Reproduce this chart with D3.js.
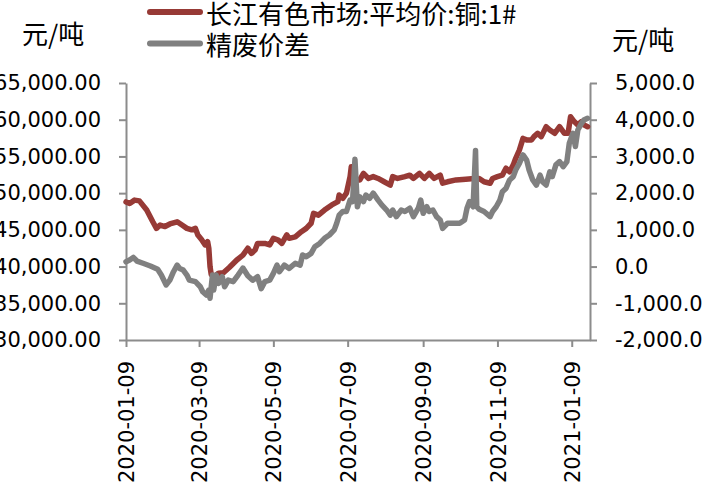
<!DOCTYPE html>
<html><head><meta charset="utf-8">
<script src="https://cdn.jsdelivr.net/npm/d3@7"></script>
<style>
html,body{margin:0;padding:0;background:#fff;overflow:hidden;}
svg{display:block;}
.num{font-family:"DejaVu Sans",sans-serif;font-size:21px;fill:#000;}
.cjk{font-family:"Noto Sans CJK SC",sans-serif;font-size:26px;fill:#000;}
</style></head>
<body>
<svg id="chart" width="719" height="483"></svg>
<script>
// ---- data ----
const seriesNames = ["长江有色市场:平均价:铜:1#", "精废价差"];
const unitLabel = "元/吨";
const xTickLabels = ["2020-01-09","2020-03-09","2020-05-09","2020-07-09","2020-09-09","2020-11-09","2021-01-09"];
const leftTicks = [30000,35000,40000,45000,50000,55000,60000,65000];
const rightTicks = [-2000,-1000,0,1000,2000,3000,4000,5000];

const copperDates = [
 "2020-01-09","2020-01-12","2020-01-16","2020-01-20","2020-01-26","2020-01-31",
 "2020-02-03","2020-02-06","2020-02-10","2020-02-14","2020-02-20","2020-02-24","2020-02-28",
 "2020-03-03","2020-03-06","2020-03-08","2020-03-11","2020-03-14","2020-03-16","2020-03-17","2020-03-18","2020-03-19","2020-03-22","2020-03-25","2020-03-29",
 "2020-04-03","2020-04-09","2020-04-14","2020-04-18","2020-04-21","2020-04-24","2020-04-26",
 "2020-05-02","2020-05-06","2020-05-09","2020-05-13","2020-05-16","2020-05-20","2020-05-22","2020-05-27",
 "2020-06-01","2020-06-05","2020-06-09","2020-06-11","2020-06-15","2020-06-20","2020-06-26",
 "2020-07-01","2020-07-02","2020-07-05","2020-07-08","2020-07-11","2020-07-12","2020-07-15","2020-07-19","2020-07-22","2020-07-26","2020-07-30",
 "2020-08-03","2020-08-08","2020-08-13","2020-08-15","2020-08-19","2020-08-25","2020-08-29",
 "2020-09-01","2020-09-06","2020-09-10","2020-09-14","2020-09-18","2020-09-23","2020-09-25","2020-09-29",
 "2020-10-06","2020-10-14","2020-10-21","2020-10-25","2020-10-29",
 "2020-11-03","2020-11-05","2020-11-09","2020-11-13","2020-11-16","2020-11-19","2020-11-22","2020-11-24","2020-11-27","2020-11-30",
 "2020-12-03","2020-12-07","2020-12-09","2020-12-12","2020-12-15","2020-12-19","2020-12-22","2020-12-26","2020-12-30",
 "2021-01-03","2021-01-06","2021-01-08","2021-01-11","2021-01-14","2021-01-17","2021-01-19","2021-01-22"
];
const copperPrices = [
 48800,48600,49050,48950,47700,46100,
 45200,45650,45450,45800,46100,45650,45200,
 45000,45200,44300,43700,42950,43400,42500,40000,38900,38700,39100,39150,
 39900,40900,41550,42500,41800,42250,43150,
 43150,42950,43850,43600,43150,44300,43850,44050,
 44750,45200,45900,47250,47000,47700,48400,
 48850,49750,49300,50000,52250,53600,51800,51800,52700,52000,52250,
 52000,51550,51100,52250,52000,52250,52450,
 52000,52700,52000,52700,52000,52450,51350,51550,
 51800,51900,52000,52000,51550,
 51350,52000,52250,52450,53400,52900,53850,54750,55850,57450,
 57250,57250,57700,58150,57700,59050,58600,58150,59050,
 58150,58150,60400,59750,59300,59750,59300,59050
];

const spreadDates = [
 "2020-01-09","2020-01-12","2020-01-15","2020-01-18","2020-01-23","2020-01-29",
 "2020-02-04","2020-02-07","2020-02-11","2020-02-14","2020-02-17","2020-02-20","2020-02-22","2020-02-25","2020-02-28",
 "2020-03-01","2020-03-06","2020-03-10","2020-03-12","2020-03-15","2020-03-17","2020-03-18","2020-03-20","2020-03-21","2020-03-23","2020-03-25","2020-03-28","2020-03-30",
 "2020-04-02","2020-04-06","2020-04-10","2020-04-14","2020-04-18","2020-04-22","2020-04-26","2020-04-29",
 "2020-05-02","2020-05-06","2020-05-09","2020-05-12","2020-05-14","2020-05-18","2020-05-22","2020-05-27","2020-05-31",
 "2020-06-02","2020-06-05","2020-06-09","2020-06-12","2020-06-16","2020-06-20","2020-06-24","2020-06-28","2020-06-30",
 "2020-07-02","2020-07-05","2020-07-08","2020-07-11","2020-07-13","2020-07-15","2020-07-17","2020-07-19","2020-07-22","2020-07-24","2020-07-27","2020-07-30",
 "2020-08-03","2020-08-06","2020-08-10","2020-08-13","2020-08-15","2020-08-18","2020-08-22","2020-08-25","2020-08-29",
 "2020-09-01","2020-09-05","2020-09-07","2020-09-09","2020-09-12","2020-09-14","2020-09-17","2020-09-20","2020-09-23","2020-09-25","2020-09-29",
 "2020-10-03","2020-10-09","2020-10-13","2020-10-15","2020-10-17","2020-10-20","2020-10-22","2020-10-23","2020-10-25","2020-10-29",
 "2020-11-03","2020-11-05","2020-11-08","2020-11-11","2020-11-13","2020-11-16","2020-11-19","2020-11-22","2020-11-24","2020-11-27","2020-11-30",
 "2020-12-03","2020-12-05","2020-12-08","2020-12-11","2020-12-14","2020-12-16","2020-12-19","2020-12-22","2020-12-24","2020-12-27","2020-12-30",
 "2021-01-02","2021-01-05","2021-01-07","2021-01-10","2021-01-12","2021-01-14","2021-01-17","2021-01-19","2021-01-22"
];
const spreadValues = [
 130,180,250,150,90,15,
 -75,-230,-500,-370,-140,40,-50,-95,-230,
 -370,-410,-550,-685,-775,-640,-865,-230,-640,-230,-460,-275,-550,
 -370,-410,-230,-40,-250,-370,-275,-600,
 -410,-370,-185,40,-140,40,-50,90,40,
 315,270,360,540,630,770,860,1000,1180,
 1400,1500,1500,1810,1770,2920,1630,1900,1770,1950,1860,2000,
 1810,1680,1540,1400,1540,1360,1540,1500,1590,
 1360,1590,1810,1450,1630,1500,1540,1360,1270,1040,1180,
 1180,1180,1270,1590,1770,1630,3160,1630,1560,1500,
 1360,1500,1630,1810,2040,2130,2360,2450,2630,2810,3040,
 2900,2630,2360,2220,2490,2310,2220,2580,2450,2770,2860,
 2720,2860,3360,3630,3270,3720,3900,3990,4040
];

// ---- layout ----
const plot = {left:126, right:590, top:83, bottom:340};
const parse = d3.utcParse("%Y-%m-%d");
const fmtDate = d3.utcFormat("%Y-%m-%d");
const loc = d3.formatLocale({decimal:".", thousands:",", grouping:[3], currency:["",""], minus:"-"});

const svg = d3.select("#chart");

const x = d3.scaleUtc()
  .domain([parse("2020-01-09"), parse("2021-01-24")])
  .range([plot.left, plot.right]);
const yL = d3.scaleLinear().domain([30000,65000]).range([plot.bottom, plot.top]);
const yR = d3.scaleLinear().domain([-2000,5000]).range([plot.bottom, plot.top]);

const axisColor = "#8c8c8c";
function styleAxis(g){
  g.select(".domain").attr("stroke", axisColor).attr("stroke-width", 2);
  g.selectAll(".tick line").attr("stroke", axisColor).attr("stroke-width", 2);
  g.selectAll(".tick text").attr("class","num").attr("fill","#000");
}

// left axis
svg.append("g").attr("transform",`translate(${plot.left},0)`)
  .call(d3.axisLeft(yL).tickValues(leftTicks).tickFormat(loc.format(",.2f")).tickSize(7).tickPadding(18).tickSizeOuter(0))
  .call(g=>{g.attr("font-family",null).attr("font-size",null);styleAxis(g);});

// right axis
svg.append("g").attr("transform",`translate(${plot.right},0)`)
  .call(d3.axisRight(yR).tickValues(rightTicks).tickFormat(loc.format(",.1f")).tickSize(7).tickPadding(18).tickSizeOuter(0))
  .call(g=>{g.attr("font-family",null).attr("font-size",null);styleAxis(g);});

// bottom axis
svg.append("g").attr("transform",`translate(0,${plot.bottom})`)
  .call(d3.axisBottom(x).tickValues(xTickLabels.map(parse)).tickFormat(fmtDate).tickSize(7).tickSizeOuter(0))
  .call(g=>{
    g.attr("font-family",null).attr("font-size",null);
    styleAxis(g);
    g.selectAll(".tick text")
      .attr("transform","rotate(-90)")
      .attr("x",-21).attr("y",0).attr("dy","0.36em")
      .attr("text-anchor","end");
  });

// lines
const copper = copperDates.map((d,i)=>({date:parse(d), v:copperPrices[i]}));
const spread = spreadDates.map((d,i)=>({date:parse(d), v:spreadValues[i]}));
const red = "#973a36", gray = "#808080";

svg.append("path").datum(copper)
  .attr("fill","none").attr("stroke",red).attr("stroke-width",5.5)
  .attr("stroke-linejoin","round").attr("stroke-linecap","round")
  .attr("d", d3.line().x(d=>x(d.date)).y(d=>yL(d.v)));
svg.append("path").datum(spread)
  .attr("fill","none").attr("stroke",gray).attr("stroke-width",5.5)
  .attr("stroke-linejoin","round").attr("stroke-linecap","round")
  .attr("d", d3.line().x(d=>x(d.date)).y(d=>yR(d.v)));

// unit labels
svg.append("text").attr("class","cjk").attr("x",22).attr("y",32.5)
  .attr("dominant-baseline","central").text(unitLabel);
svg.append("text").attr("class","cjk").attr("x",612).attr("y",38.5)
  .attr("dominant-baseline","central").text(unitLabel);

// legend
const legend = [{name:seriesNames[0], color:red, y:12},{name:seriesNames[1], color:gray, y:43.5}];
legend.forEach(l=>{
  svg.append("line").attr("x1",150).attr("x2",200).attr("y1",l.y).attr("y2",l.y)
    .attr("stroke",l.color).attr("stroke-width",6).attr("stroke-linecap","round");
  svg.append("text").attr("class","cjk").attr("x",206).attr("y",l.y)
    .attr("dominant-baseline","central").text(l.name);
});
</script>
</body></html>
